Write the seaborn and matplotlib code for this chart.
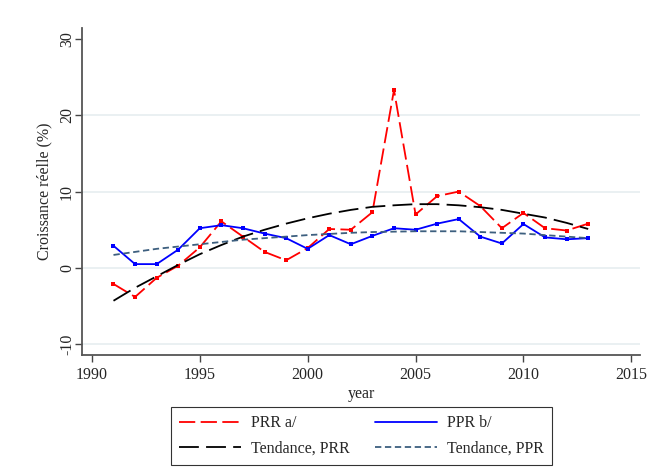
import matplotlib
matplotlib.use("Agg")
import matplotlib.pyplot as plt
import numpy as np
import pandas as pd
import seaborn as sns

years = list(range(1991, 2014))
prr = [-2.1, -3.8, -1.3, 0.3, 2.7, 6.1, 4.1, 2.1, 1.0, 2.6, 5.1, 5.0, 7.3,
       23.3, 7.0, 9.4, 10.0, 8.1, 5.2, 7.2, 5.2, 4.9, 5.8]
ppr = [2.9, 0.5, 0.5, 2.4, 5.2, 5.6, 5.2, 4.5, 3.9, 2.5, 4.3, 3.1, 4.2,
       5.2, 5.0, 5.8, 6.4, 4.1, 3.2, 5.75, 4.0, 3.75, 3.9]
tend_prr = [-4.3, -2.6, -1.1, 0.4, 1.8, 3.0, 4.1, 5.0, 5.8, 6.5, 7.1, 7.6, 8.0,
            8.2, 8.35, 8.35, 8.2, 7.95, 7.6, 7.1, 6.6, 5.9, 5.1]
tend_ppr = [1.7, 2.1, 2.5, 2.8, 3.1, 3.4, 3.7, 3.9, 4.1, 4.3, 4.45, 4.6, 4.7,
            4.75, 4.8, 4.8, 4.8, 4.7, 4.6, 4.5, 4.3, 4.1, 3.9]

df = pd.DataFrame({"year": years, "prr": prr, "ppr": ppr,
                   "tprr": tend_prr, "tppr": tend_ppr})

sns.set_style("white")
plt.rcParams["font.family"] = ["Liberation Serif", "DejaVu Serif"]

fig = plt.figure(figsize=(6.58, 4.73), dpi=100)
ax = fig.add_axes([0.1246, 0.2495, 0.848, 0.691])

# grille horizontale
for v in [-10, 0, 10, 20]:
    ax.axhline(v, color="#e6eef0", lw=1.2, zorder=0)

sns.lineplot(data=df, x="year", y="prr", ax=ax, color="red", lw=1.3,
             marker="s", markersize=3, markeredgewidth=0, label="PRR a/")
ax.lines[-1].set_dashes([9, 3])
sns.lineplot(data=df, x="year", y="ppr", ax=ax, color="blue", lw=1.3,
             marker="s", markersize=3, markeredgewidth=0, label="PPR b/")
sns.lineplot(data=df, x="year", y="tprr", ax=ax, color="black", lw=1.3,
             label="Tendance, PRR")
ax.lines[-1].set_dashes([11, 4])
sns.lineplot(data=df, x="year", y="tppr", ax=ax, color="#3d5f7f", lw=1.3,
             label="Tendance, PPR")
ax.lines[-1].set_dashes([3.5, 2])

ax.set_xlim(1989.54, 2015.4)
ax.set_ylim(-11.4, 31.4)
ax.set_xticks([1990, 1995, 2000, 2005, 2010, 2015])
ax.set_yticks([-10, 0, 10, 20, 30])
ax.set_yticklabels(["-10", "0", "10", "20", "30"], rotation=90, va="center")
ax.tick_params(axis="both", direction="out", length=5, width=1,
               color="#444444", labelsize=11.5, left=True, bottom=True)
ax.tick_params(axis="x", pad=4)
ax.tick_params(axis="y", pad=0)
ax.set_xlabel("year", fontsize=11.5, labelpad=2)
ax.set_ylabel("Croissance réelle (%)", fontsize=11.5, labelpad=5)

for s in ["top", "right"]:
    ax.spines[s].set_visible(False)
for s in ["left", "bottom"]:
    ax.spines[s].set_color("#555555")
    ax.spines[s].set_linewidth(1.3)

ax.get_legend().remove()
h, l = ax.get_legend_handles_labels()
order = [0, 2, 1, 3]  # remplissage par ligne
leg = fig.legend([h[i] for i in order], [l[i] for i in order], ncol=2,
                 loc="center", bbox_to_anchor=(0.549, 0.078),
                 frameon=True, fancybox=False, edgecolor="black",
                 fontsize=11.5, handlelength=3.9, columnspacing=1.6,
                 borderpad=0.5, labelspacing=0.6, handletextpad=0.6)
leg.get_frame().set_linewidth(0.8)
for lh in leg.get_lines():
    lh.set_marker("")

fig.savefig("out.png", dpi=100, facecolor="white")
